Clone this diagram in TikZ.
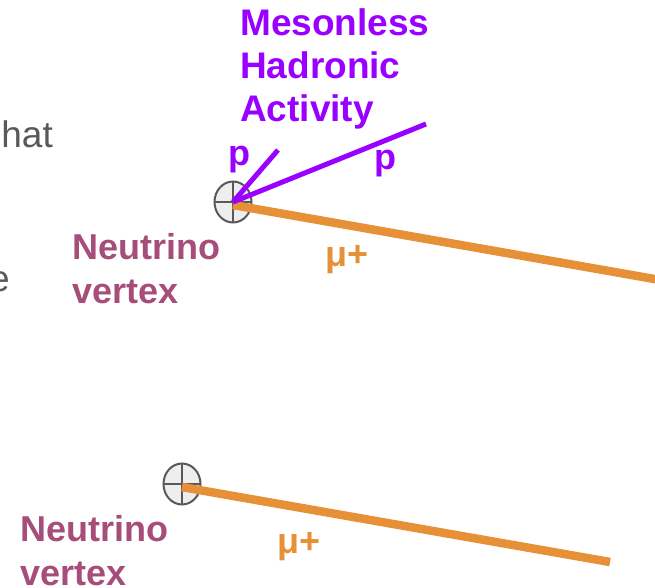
\documentclass[tikz,border=0pt]{standalone}
\usepackage{fontspec}
\setmainfont{Liberation Sans}
\usepackage{xcolor}
\usepackage{tikz}
\usetikzlibrary{shapes.geometric}

\definecolor{hadron}{HTML}{9900FF}
\definecolor{muon}{HTML}{E69138}
\definecolor{vtxtext}{HTML}{A64D79}
\definecolor{slidegray}{HTML}{595959}

\begin{document}
\begin{tikzpicture}[
  x=1pt, y=-1pt,
  font=\fontsize{37}{44}\selectfont,
  vtx/.style={ellipse, draw=slidegray, fill=gray!13, line width=2pt,
    minimum width=37pt, minimum height=41pt, inner sep=0pt,
    path picture={\draw[slidegray, line width=2pt]
      (path picture bounding box.north) -- (path picture bounding box.south)
      (path picture bounding box.west) -- (path picture bounding box.east);}},
  lbl/.style={inner sep=0pt, align=left, font=\fontsize{36}{44}\selectfont\bfseries},
  trk/.style={line width=8.5pt, muon},
  had/.style={line width=5pt, hadron},
]
\useasboundingbox (0,0) rectangle (655,588);
\clip (0,0) rectangle (655,588);

% rest of the slide text, cut at the left edge
\node[inner sep=0pt, anchor=base east, slidegray] (bghat) at (53,148) {hat};
\node[inner sep=0pt, anchor=base east, slidegray] (bge) at (10,291) {e};

% upper event
\node[vtx] (vtxa) at (233,202) {};
\coordinate (pshort) at (278,150);
\coordinate (plong) at (426,124);
\coordinate (muaend) at (680,283.5);
\draw[trk] ([yshift=-3pt]vtxa.center) -- (muaend);
\draw[had] (vtxa.center) -- (pshort);
\draw[had] (vtxa.center) -- (plong);
\node[lbl, hadron, font=\fontsize{37}{43}\selectfont\bfseries, anchor=north west] (mha) at (240,8) {Mesonless\\Hadronic\\Activity};
\node[lbl, hadron, anchor=base west] (pa) at (228,165) {p};
\node[lbl, hadron, anchor=base west] (pb) at (374,170) {p};
\node[lbl, muon, anchor=base west] (mua) at (325,266) {μ+};
\node[lbl, vtxtext, anchor=north west] (nva) at (72,233) {Neutrino\\vertex};

% lower event
\node[vtx] (vtxb) at (182,484) {};
\coordinate (mubend) at (610,562);
\draw[trk] ([yshift=-3pt]vtxb.center) -- (mubend);
\node[lbl, muon, anchor=base west] (mub) at (277,553) {μ+};
\node[lbl, vtxtext, anchor=north west] (nvb) at (20,515) {Neutrino\\vertex};
\end{tikzpicture}
\end{document}
